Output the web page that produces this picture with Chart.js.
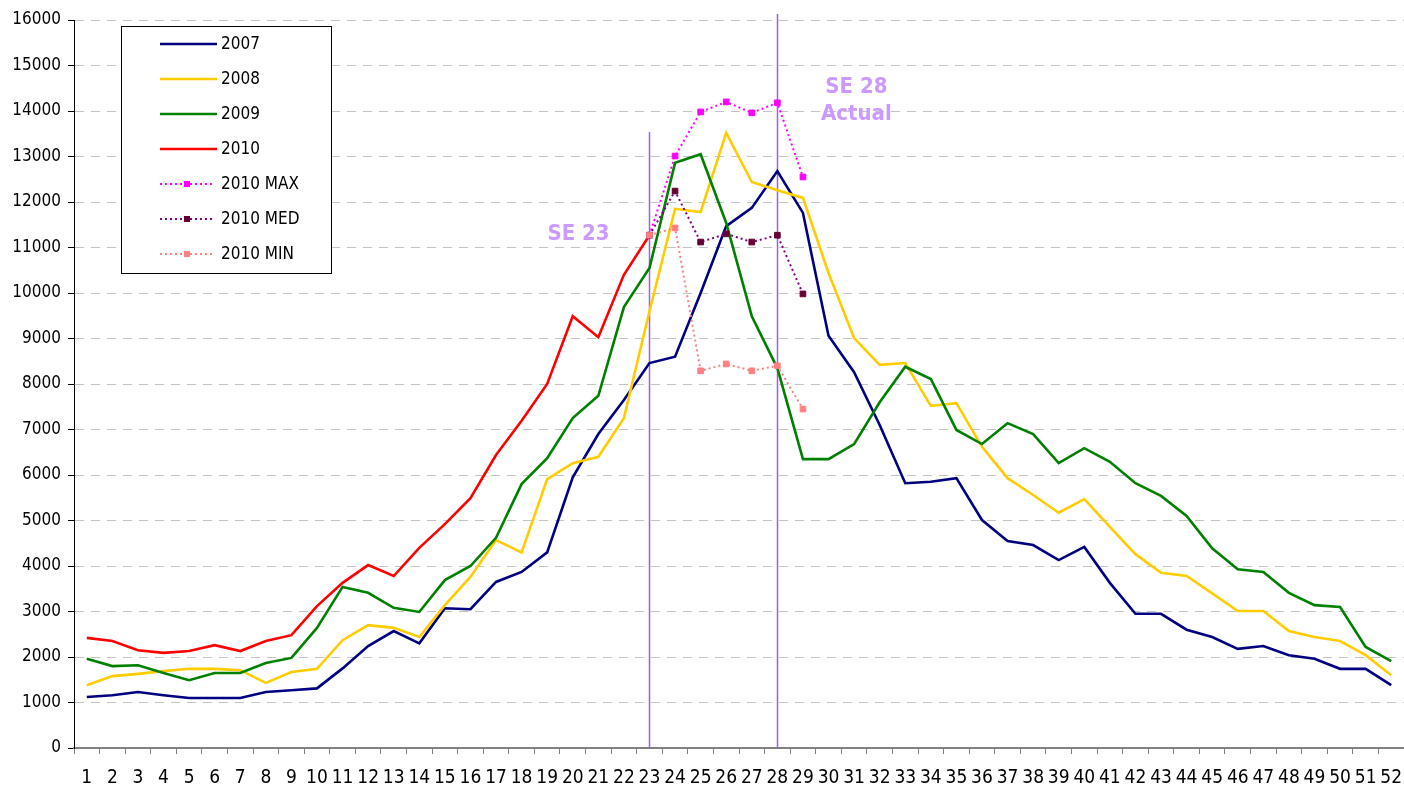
<!DOCTYPE html>
<html><head><meta charset="utf-8">
<script src="https://cdn.jsdelivr.net/npm/chart.js@4"></script>
<style>html,body{margin:0;padding:0;background:#fff;overflow:hidden;}</style>
</head><body>
<canvas id="c" width="1404" height="790"></canvas>
<script>
const weeks = ['1','2','3','4','5','6','7','8','9','10','11','12','13','14','15','16','17','18','19','20','21','22','23','24','25','26','27','28','29','30','31','32','33','34','35','36','37','38','39','40','41','42','43','44','45','46','47','48','49','50','51','52'];
const yTicks = [0,1000,2000,3000,4000,5000,6000,7000,8000,9000,10000,11000,12000,13000,14000,15000,16000];

const s2007 = [1120,1160,1230,1160,1100,1100,1100,1230,1270,1310, 1750,2240,2570,2300,3070,3050,3650,3870,4300,5950, 6900,7650,8460,8600,10000,11470,11870,12680,11760,9060, 8260,7100,5820,5850,5930,5010,4550,4460,4130,4420, 3630,2950,2950,2600,2440,2180,2240,2040,1960,1740, 1740,1380];
const s2008 = [1380,1580,1630,1690,1740,1740,1710,1430,1670,1740, 2370,2700,2640,2440,3140,3760,4570,4300,5910,6260, 6400,7250,9600,11850,11780,13520,12440,12260,12090,10440, 9010,8420,8460,7520,7580,6620,5930,5560,5170,5470, 4860,4260,3850,3780,3400,3010,3010,2570,2440,2350, 2040,1600];
const s2009 = [1960,1800,1820,1650,1490,1650,1650,1870,1980,2640, 3540,3410,3080,2990,3690,4000,4620,5800,6370,7250, 7740,9690,10550,12860,13050,11540,9490,8350,6350,6350, 6680,7600,8380,8110,6990,6680,7140,6900,6260,6590, 6290,5820,5540,5100,4390,3930,3870,3410,3140,3100, 2220,1910];
const s2010 = [2420,2350,2150,2090,2130,2260,2130,2350,2480,3120, 3630,4020,3780,4400,4920,5490,6440,7190,8000,9490, 9030,10400,11270,null,null,null,null,null,null,null, null,null,null,null,null,null,null,null,null,null, null,null,null,null,null,null,null,null,null,null, null,null];
const s2010max = [null,null,null,null,null,null,null,null,null,null, null,null,null,null,null,null,null,null,null,null, null,null,11270,13010,13980,14200,13960,14180,12550,null, null,null,null,null,null,null,null,null,null,null, null,null,null,null,null,null,null,null,null,null, null,null];
const s2010med = [null,null,null,null,null,null,null,null,null,null, null,null,null,null,null,null,null,null,null,null, null,null,11270,12240,11120,11300,11120,11270,9980,null, null,null,null,null,null,null,null,null,null,null, null,null,null,null,null,null,null,null,null,null, null,null];
const s2010min = [null,null,null,null,null,null,null,null,null,null, null,null,null,null,null,null,null,null,null,null, null,null,11270,11430,8290,8440,8290,8400,7450,null, null,null,null,null,null,null,null,null,null,null, null,null,null,null,null,null,null,null,null,null, null,null];

const FONT = '"DejaVu Sans Condensed", "DejaVu Sans", sans-serif';

function solid(label, data, color, order) {
  return {label, data, borderColor: color, backgroundColor: color, borderWidth: 2.6,
    pointRadius: 0, tension: 0, spanGaps: false, order, dotted: false};
}
function dotted(label, data, color, marker, order) {
  return {label, data, borderColor: color, backgroundColor: marker, borderWidth: 2,
    borderDash: [2, 3], pointStyle: 'rect', pointRadius: 4, pointBorderWidth: 1,
    pointBorderColor: marker, pointBackgroundColor: marker, tension: 0, spanGaps: false, order, dotted: true, marker};
}

const datasets = [
  solid('2007', s2007, '#000080', 7),
  solid('2008', s2008, '#FFCC00', 6),
  solid('2009', s2009, '#008000', 5),
  solid('2010', s2010, '#FF0000', 4),
  dotted('2010 MAX', s2010max, '#FF00FF', '#FF00FF', 3),
  dotted('2010 MED', s2010med, '#800080', '#660033', 2),
  dotted('2010 MIN', s2010min, '#FF8080', '#FF8080', 1)
];

const markers = [
  {week: '23', top: 13540, text: ['SE 23'], dx: -71, ys: [240]},
  {week: '28', top: 16130, text: ['SE 28', 'Actual'], dx: 79, ys: [93, 120]}
];

const overlay = {
  id: 'overlay',
  beforeDatasetsDraw(chart) {
    const {ctx, scales: {x, y}, chartArea} = chart;
    ctx.save();
    ctx.strokeStyle = '#9A62EC';
    ctx.lineWidth = 1.5;
    markers.forEach(m => {
      const px = Math.round(x.getPixelForValue(weeks.indexOf(m.week))) + 0.5;
      ctx.beginPath();
      ctx.moveTo(px, y.getPixelForValue(m.top));
      ctx.lineTo(px, chartArea.bottom);
      ctx.stroke();
    });
    ctx.restore();
  },
  afterDatasetsDraw(chart) {
    const {ctx, scales: {x}} = chart;
    ctx.save();
    ctx.fillStyle = '#CC99FF';
    ctx.font = 'bold 22px ' + FONT;
    ctx.textAlign = 'center';
    ctx.textBaseline = 'alphabetic';
    markers.forEach(m => {
      const px = x.getPixelForValue(weeks.indexOf(m.week));
      m.text.forEach((t, i) => ctx.fillText(t, px + m.dx, m.ys[i]));
    });
    // legend
    const bx = 121.5, by = 26.5, bw = 210, bh = 247;
    ctx.fillStyle = '#fff';
    ctx.fillRect(bx, by, bw, bh);
    ctx.strokeStyle = '#000';
    ctx.lineWidth = 1;
    ctx.strokeRect(bx, by, bw, bh);
    ctx.font = '17px ' + FONT;
    ctx.textAlign = 'left';
    ctx.textBaseline = 'middle';
    chart.data.datasets.forEach((ds, i) => {
      const ry = 44 + i * 35;
      ctx.save();
      ctx.strokeStyle = ds.borderColor;
      ctx.lineWidth = ds.dotted ? 2 : 2.6;
      if (ds.dotted) ctx.setLineDash([2, 3]);
      ctx.beginPath();
      ctx.moveTo(160, ry);
      ctx.lineTo(ds.dotted ? 213 : 217, ry);
      ctx.stroke();
      ctx.restore();
      if (ds.dotted) {
        ctx.fillStyle = ds.marker;
        ctx.fillRect(184, ry - 3, 6, 6);
      }
      ctx.fillStyle = '#000';
      ctx.fillText(ds.label, 221, ry + 1);
    });
    ctx.restore();
  }
};

new Chart(document.getElementById('c'), {
  type: 'line',
  data: {labels: weeks, datasets},
  plugins: [overlay],
  options: {
    responsive: false,
    animation: false,
    layout: {autoPadding: false, padding: {top: 20, right: 0, left: 0, bottom: 0}},
    plugins: {legend: {display: false}, tooltip: {enabled: false}},
    scales: {
      x: {
        type: 'category',
        offset: true,
        grid: {display: true, drawOnChartArea: false, drawTicks: true, tickLength: 6, color: '#808080', lineWidth: 1, offset: true},
        border: {display: true, color: '#808080', width: 2},
        ticks: {color: '#000', font: {family: FONT, size: 19}, padding: 13, maxRotation: 0, autoSkip: false},
        afterFit(s) { s.height = 42; s.paddingLeft = 0; s.paddingRight = 0; }
      },
      y: {
        min: yTicks[0],
        max: yTicks[yTicks.length - 1],
        afterBuildTicks(s) { s.ticks = yTicks.map(v => ({value: v})); },
        ticks: {color: '#000', font: {family: FONT, size: 17}, padding: 7, callback: v => String(v)},
        grid: {color: c => (c.tick && c.tick.value === 0) ? 'rgba(0,0,0,0)' : '#C4C4C4', tickColor: '#000', tickLength: 6, lineWidth: 1},
        border: {display: true, color: '#000', width: 1, dash: [9, 7]},
        afterFit(s) { s.width = 74; }
      }
    }
  }
});
</script>
</body></html>
